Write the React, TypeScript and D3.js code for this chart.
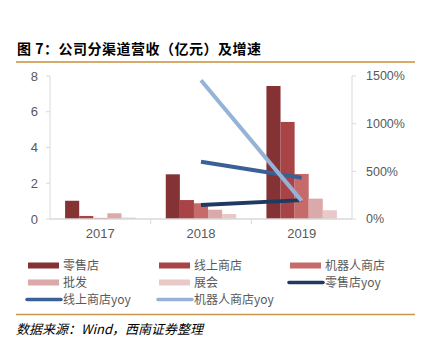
import React from "react";
import * as d3 from "d3";

const categories = ["2017", "2018", "2019"];
const barSeries = ["零售店", "线上商店", "机器人商店", "批发", "展会"];
const retail = [1.02, 2.5, 7.44];
const online = [0.17, 1.06, 5.43];
const robot = [0.06, 0.88, 2.52];
const wholesale = [0.32, 0.52, 1.14];
const expo = [0.08, 0.28, 0.49];
const barValues = [retail, online, robot, wholesale, expo];
const barColors = ["#843234", "#a94446", "#c76a6a", "#dba9a9", "#eac8c8"];

const lineSeries = ["零售店yoy", "线上商店yoy", "机器人商店yoy"];
const lineCats = ["2018", "2019"];
const retailYoy = [147, 198];
const onlineYoy = [600, 432];
const robotYoy = [1455, 190];
const lineValues = [retailYoy, onlineYoy, robotYoy];
const lineColors = ["#1f3a60", "#3b6098", "#95b3d7"];

const leftTicks = [0, 2, 4, 6, 8];
const rightTicks = [0, 500, 1000, 1500];

const W = 425;
const H = 350;
const L = 50;
const R = 352;
const T = 76;
const B = 219;

export default function App() {
  const x = d3.scaleBand<string>().domain(categories).range([L, R]).paddingInner(0.3).paddingOuter(0.15);
  const xs = d3.scaleBand<string>().domain(barSeries).range([0, x.bandwidth()]);
  const yL = d3.scaleLinear().domain([0, 8]).range([B, T]);
  const yR = d3.scaleLinear().domain([0, 1500]).range([B, T]);
  const step = x.step();
  const line = d3
    .line<number>()
    .x((_, i) => (x(lineCats[i]) as number) + x.bandwidth() / 2)
    .y((d) => yR(d));

  const legendItems = [
    { name: barSeries[0], type: "bar", color: barColors[0] },
    { name: barSeries[1], type: "bar", color: barColors[1] },
    { name: barSeries[2], type: "bar", color: barColors[2] },
    { name: barSeries[3], type: "bar", color: barColors[3] },
    { name: barSeries[4], type: "bar", color: barColors[4] },
    { name: lineSeries[0], type: "line", color: lineColors[0] },
    { name: lineSeries[1], type: "line", color: lineColors[1] },
    { name: lineSeries[2], type: "line", color: lineColors[2] },
  ];
  const colX = [28, 159, 290];
  const rowY = [265.5, 282.5, 299.5];

  const font = "'Liberation Sans', Arial, 'Noto Sans CJK SC', sans-serif";
  const cjk = "'Noto Sans CJK SC', 'Liberation Sans', sans-serif";

  return (
    <svg width={W} height={H} style={{ position: "absolute", left: 0, top: 0, background: "#fff" }}>
      <text x={17} y={54} fontFamily={cjk} fontWeight="bold" fontSize={14} letterSpacing={0.5} fill="#000">
        图 7：公司分渠道营收（亿元）及增速
      </text>
      <line x1={16} x2={415} y1={62} y2={62} stroke="#d6ab6c" strokeWidth={2} />

      {/* axes */}
      <line x1={L} x2={L} y1={T} y2={B} stroke="#d9d9d9" />
      <line x1={R} x2={R} y1={T} y2={B} stroke="#d9d9d9" />
      {leftTicks.map((t) => (
        <g key={"l" + t}>
          <line x1={L - 4} x2={L} y1={yL(t)} y2={yL(t)} stroke="#d9d9d9" />
          <text x={38} y={yL(t)} dy="0.35em" textAnchor="end" fontFamily={font} fontSize={13} fill="#595959">
            {t}
          </text>
        </g>
      ))}
      {rightTicks.map((t) => (
        <g key={"r" + t}>
          <line x1={R} x2={R + 4} y1={yR(t)} y2={yR(t)} stroke="#d9d9d9" />
          <text x={366} y={yR(t)} dy="0.35em" textAnchor="start" fontFamily={font} fontSize={12.5} fill="#595959">
            {t}%
          </text>
        </g>
      ))}

      {/* bars */}
      {barValues.map((vals, si) =>
        vals.map((v, ci) => (
          <rect
            key={si + "-" + ci}
            x={(x(categories[ci]) as number) + (xs(barSeries[si]) as number)}
            y={yL(v)}
            width={xs.bandwidth()}
            height={B - yL(v)}
            fill={barColors[si]}
          />
        ))
      )}

      <line x1={L} x2={R} y1={B} y2={B} stroke="#d9d9d9" strokeWidth={1.5} />
      {categories.map((c, i) => {
        const bx = L + i * step;
        return i > 0 ? <line key={"t" + c} x1={bx} x2={bx} y1={B} y2={B + 5} stroke="#d9d9d9" /> : null;
      })}
      {categories.map((c) => (
        <text
          key={"x" + c}
          x={(x(c) as number) + x.bandwidth() / 2}
          y={238}
          textAnchor="middle"
          fontFamily={font}
          fontSize={13}
          fill="#595959"
        >
          {c}
        </text>
      ))}

      {/* lines */}
      {lineValues.map((vals, i) => (
        <path key={"ln" + i} d={line(vals) as string} fill="none" stroke={lineColors[i]} strokeWidth={4} />
      ))}

      {/* legend */}
      {legendItems.map((it, i) => {
        const cx = colX[i % 3];
        const cy = rowY[Math.floor(i / 3)];
        return (
          <g key={"lg" + i}>
            {it.type === "bar" ? (
              <rect x={cx} y={cy - 3} width={31} height={6} fill={it.color} />
            ) : (
              <line x1={cx - 1} x2={cx + 33} y1={cy} y2={cy} stroke={it.color} strokeWidth={3.5} strokeLinecap="round" />
            )}
            <text x={cx + 35} y={cy} dy="0.35em" fontFamily={cjk} fontSize={12} fill="#595959">
              {it.name}
            </text>
          </g>
        );
      })}

      <line x1={16} x2={415} y1={314.5} y2={314.5} stroke="#c9974c" strokeWidth={1.5} />
      <text x={16} y={334} fontFamily={cjk} fontStyle="italic" fontSize={13} fill="#000">
        数据来源：Wind，西南证券整理
      </text>
    </svg>
  );
}
